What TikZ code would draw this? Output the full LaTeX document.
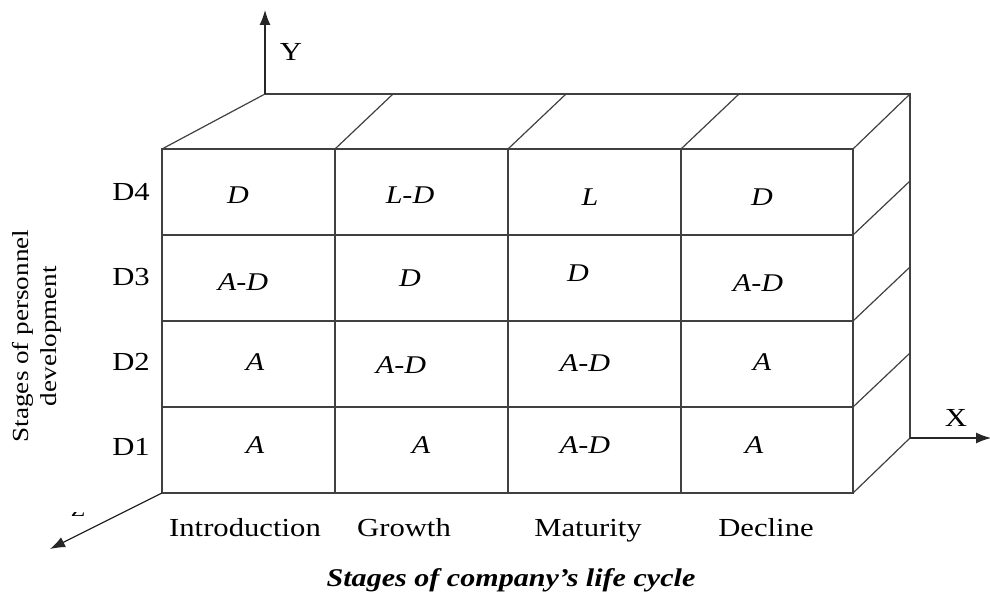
\documentclass[tikz,border=0pt]{standalone}
\usepackage{fontspec}
\setmainfont[FakeStretch=1.18]{Liberation Serif}
\usetikzlibrary{arrows.meta}
\begin{document}
\begin{tikzpicture}[x=1pt,y=-1pt,
  edge/.style={line width=1.7pt,draw=black!75},
  thin/.style={line width=1.2pt,draw=black!75},
  axis/.style={line width=1.3pt,draw=black!85,-{Latex[length=15pt,width=11pt]}},
  lbl/.style={font=\fontsize{26}{28}\selectfont,inner sep=0pt},
  cell/.style={font=\fontsize{25.5}{28}\selectfont\itshape,inner sep=0pt}]
\useasboundingbox (0,0) rectangle (990,593);
% back / depth edges
\foreach \x/\bx in {335/393,508/566,681/739}
  \draw[thin] (\x,149) -- (\bx,94);
\draw[thin] (162,149) -- (265,94);
\draw[thin] (853,149) -- (910,94);
\foreach \y/\by in {235/181,321/267,407/353,493/438}
  \draw[thin] (853,\y) -- (910,\by);
\draw[edge] (265,94) -- (910,94) -- (910,438);
% front grid
\draw[edge] (162,149) rectangle (853,493);
\foreach \y in {235,321,407} \draw[edge] (162,\y) -- (853,\y);
\foreach \x in {335,508,681} \draw[edge] (\x,149) -- (\x,493);
% axes
\coordinate (O) at (265,94);
\coordinate (Ytip) at (265,10);
\coordinate (Xo) at (910,438);
\coordinate (Xtip) at (991,438);
\coordinate (Zo) at (162,493);
\coordinate (Ztip) at (50,549);
\draw[axis] (O) -- (Ytip);
\draw[axis] (Xo) -- (Xtip);
\draw[axis] (Zo) -- (Ztip);
\node[lbl] (ly) at (291,52) {Y};
\node[lbl] (lx) at (956,418) {X};
\begin{scope}
\clip (60,512) rectangle (100,524);
\node[lbl,font=\fontsize{20}{24}\selectfont] (lz) at (78,510) {Z};
\end{scope}
% row labels
\node[lbl] (d4) at (131,192) {D4};
\node[lbl] (d3) at (131,277) {D3};
\node[lbl] (d2) at (131,362) {D2};
\node[lbl] (d1) at (131,447) {D1};
% side label
\node[lbl,rotate=90,align=center,font=\fontsize{23}{28}\selectfont] (side) at (37,336) {Stages of personnel\\development};
% cells
\node[cell] at (238,195) {D};
\node[cell] at (410,195) {L-D};
\node[cell] at (590,197) {L};
\node[cell] at (762,197) {D};
\node[cell] at (243,282) {A-D};
\node[cell] at (410,278) {D};
\node[cell] at (578,273) {D};
\node[cell] at (758,283) {A-D};
\node[cell] at (255,362) {A};
\node[cell] at (401,365) {A-D};
\node[cell] at (585,363) {A-D};
\node[cell] at (762,362) {A};
\node[cell] at (255,445) {A};
\node[cell] at (421,445) {A};
\node[cell] at (585,445) {A-D};
\node[cell] at (754,445) {A};
% column labels
\node[lbl,anchor=base] (c1) at (245,536) {Introduction};
\node[lbl,anchor=base] (c2) at (404,536) {Growth};
\node[lbl,anchor=base] (c3) at (588,536) {Maturity};
\node[lbl,anchor=base] (c4) at (766,536) {Decline};
\node[lbl,anchor=base,font=\fontsize{25.5}{28}\selectfont\bfseries\itshape] (title) at (511,586) {Stages of company’s life cycle};
\end{tikzpicture}
\end{document}
